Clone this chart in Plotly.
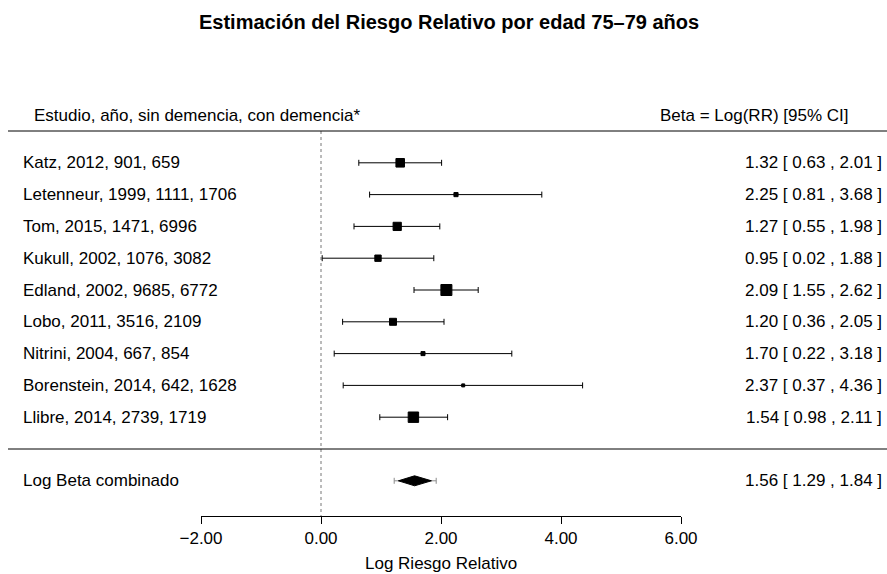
import plotly.graph_objects as go

# ---------------- data ----------------
studies = ["Katz, 2012, 901, 659", "Letenneur, 1999, 1111, 1706", "Tom, 2015, 1471, 6996",
           "Kukull, 2002, 1076, 3082", "Edland, 2002, 9685, 6772", "Lobo, 2011, 3516, 2109",
           "Nitrini, 2004, 667, 854", "Borenstein, 2014, 642, 1628", "Llibre, 2014, 2739, 1719"]
est = [1.32, 2.25, 1.27, 0.95, 2.09, 1.20, 1.70, 2.37, 1.54]
lo = [0.63, 0.81, 0.55, 0.02, 1.55, 0.36, 0.22, 0.37, 0.98]
hi = [2.01, 3.68, 1.98, 1.88, 2.62, 2.05, 3.18, 4.36, 2.11]
pooled_label = "Log Beta combinado"
pooled_est, pooled_lo, pooled_hi = 1.56, 1.29, 1.84
pred_lo, pred_hi = 1.22, 1.92
tick_vals = [-2, 0, 2, 4, 6]
tick_text = ["\u22122.00", "0.00", "2.00", "4.00", "6.00"]

title = "Estimación del Riesgo Relativo por edad 75\u201379 años"
hdr_left = "Estudio, año, sin demencia, con demencia*"
hdr_right = "Beta = Log(RR) [95% CI]"
xlab = "Log Riesgo Relativo"

# ---------------- layout geometry ----------------
W, H = 887, 574
x_lo_px, x_hi_px = 201.0, 681.0   # pixel extent of the axis (-2 .. 6)
row_px = 31.8                     # pixels per row
row0_px = 449.0                   # pixel of row 0
y_range = [-(H - row0_px) / row_px, row0_px / row_px]
axis_px = 516.0
FONT = "Liberation Sans, Arial, sans-serif"
FS = 17

k = len(studies)
rows = [k - i for i in range(k)]

def ypaper(px):
    return 1 - px / H

# marker size from weights (metafor style)
wi = [1 / ((h - l) / (2 * 1.96)) for l, h in zip(lo, hi)]
wmin, wmax = min(wi), max(wi)
cex = [(w - wmin) / (wmax - wmin) + 0.5 for w in wi]
sizes = [8 * c - 1 for c in cex]

fig = go.Figure()

# study estimates with CIs
fig.add_trace(go.Scatter(
    x=est, y=rows, mode="markers", cliponaxis=False,
    marker=dict(symbol="square", size=sizes, color="black", opacity=1,
                line=dict(width=1, color="black")),
    error_x=dict(type="data", symmetric=False,
                 array=[h - e for e, h in zip(est, hi)],
                 arrayminus=[e - l for e, l in zip(est, lo)],
                 color="black", thickness=1, width=3),
    showlegend=False, hoverinfo="skip"))

# prediction interval (grey)
fig.add_trace(go.Scatter(
    x=[pooled_est], y=[-1], mode="markers", cliponaxis=False,
    marker=dict(size=1, color="rgba(0,0,0,0)"),
    error_x=dict(type="data", symmetric=False, array=[pred_hi - pooled_est],
                 arrayminus=[pooled_est - pred_lo], color="#8c8c8c", thickness=1, width=3),
    showlegend=False, hoverinfo="skip"))

# pooled diamond
dh = 5.0 / row_px
fig.add_trace(go.Scatter(
    x=[pooled_lo, pooled_est, pooled_hi, pooled_est, pooled_lo],
    y=[-1, -1 + dh, -1, -1 - dh, -1], mode="lines", fill="toself", cliponaxis=False,
    fillcolor="black", line=dict(color="black", width=1),
    showlegend=False, hoverinfo="skip"))

shapes = []
for r in [k + 1, 0]:
    shapes.append(dict(type="line", xref="paper", yref="y", x0=8 / W, x1=887 / W,
                       y0=r, y1=r, line=dict(color="black", width=1)))
axis_row = (row0_px - axis_px) / row_px
shapes.append(dict(type="line", xref="x", yref="y", x0=0, x1=0, y0=k + 1, y1=axis_row,
                   line=dict(color="#777777", width=1, dash="dot"), layer="below"))

def txt(s, x, y, anchor, size=FS, yref="y", bold=False):
    return dict(text=("<b>" + s + "</b>") if bold else s, xref="paper", yref=yref, x=x, y=y,
                showarrow=False, xanchor=anchor, yanchor="middle",
                font=dict(size=size, family=FONT, color="black"))

ann = [txt(title, 449 / W, ypaper(22), "center", size=20, yref="paper", bold=True),
       txt(hdr_left, 31.5 / W, k + 1.5, "left"),
       txt(hdr_right, 851 / W, k + 1.5, "right")]
for s, r, e, l, h in zip(studies, rows, est, lo, hi):
    ann.append(txt(s, 20.5 / W, r, "left"))
    ann.append(txt(f"{e:.2f} [ {l:.2f} , {h:.2f} ]", 884 / W, r, "right"))
ann.append(txt(pooled_label, 20.5 / W, -1, "left"))
ann.append(txt(f"{pooled_est:.2f} [ {pooled_lo:.2f} , {pooled_hi:.2f} ]", 884 / W, -1, "right"))
ann.append(txt(xlab, (x_lo_px + x_hi_px) / 2 / W, ypaper(563), "center", yref="paper"))

fig.update_layout(
    width=W, height=H, autosize=False,
    margin=dict(l=0, r=0, t=0, b=0, pad=0, autoexpand=False),
    paper_bgcolor="white", plot_bgcolor="white",
    font=dict(family=FONT, color="black"),
    xaxis=dict(range=[tick_vals[0], tick_vals[-1]], domain=[x_lo_px / W, x_hi_px / W],
               anchor="free", position=ypaper(axis_px), automargin=False,
               showline=True, linecolor="black", linewidth=1,
               ticks="outside", ticklen=7, tickcolor="black", tickwidth=1,
               tickvals=tick_vals, ticktext=tick_text, showgrid=False, zeroline=False,
               tickfont=dict(size=FS, family=FONT, color="black"), fixedrange=True),
    yaxis=dict(range=y_range, visible=False, fixedrange=True, automargin=False),
    shapes=shapes, annotations=ann, showlegend=False,
)

fig.write_html("out.html")
